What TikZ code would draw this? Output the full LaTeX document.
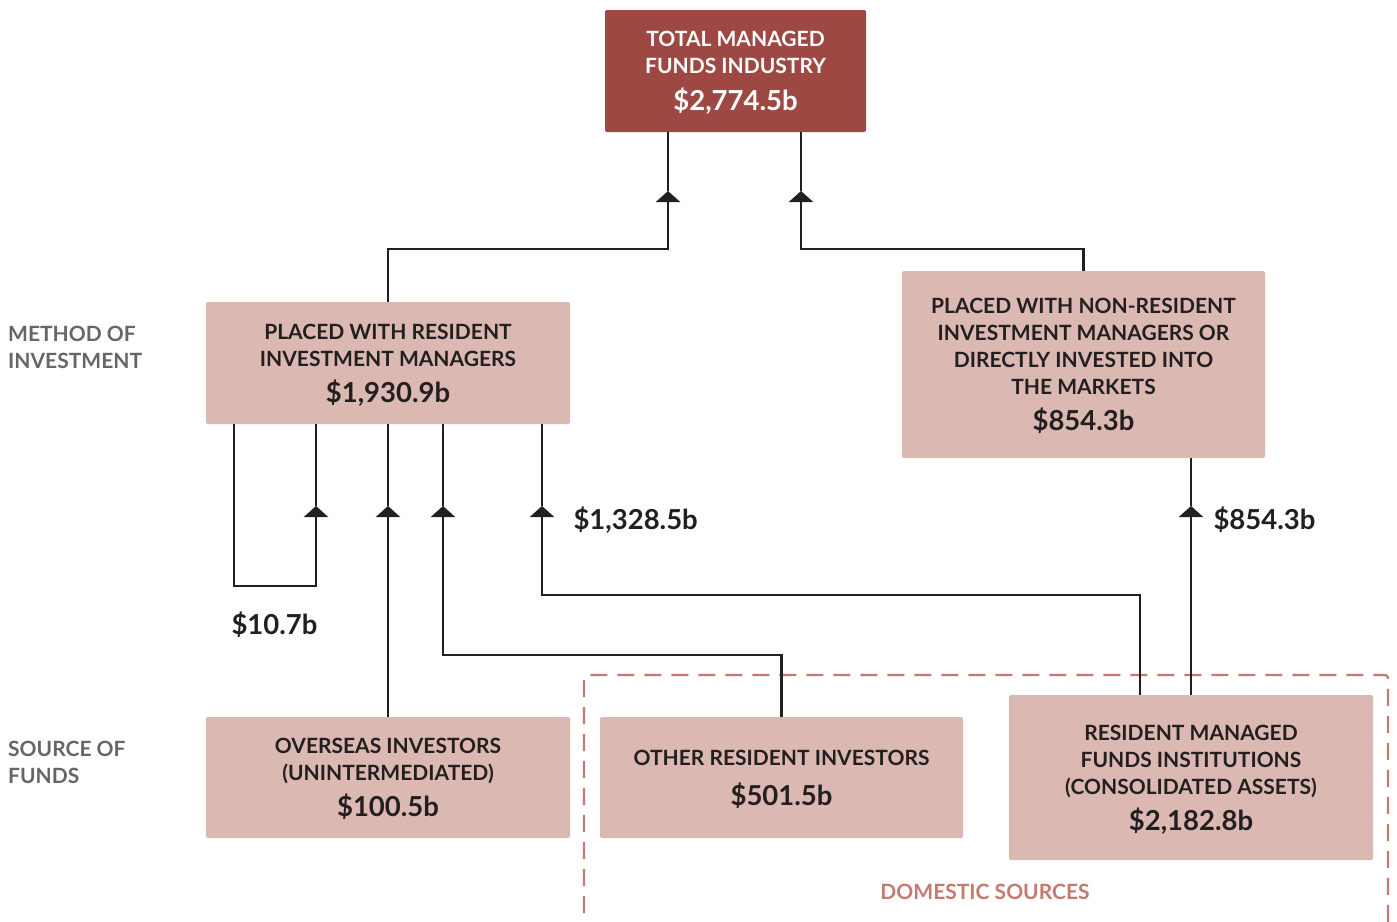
\documentclass[tikz,border=0pt]{standalone}
\usepackage{fontspec}
\setmainfont{Lato}
\usepackage{tikz}
\usetikzlibrary{arrows.meta,calc}
\definecolor{totred}{HTML}{9E4844}
\definecolor{boxpink}{HTML}{DBB8B1}
\definecolor{inkdark}{HTML}{231F20}
\definecolor{sidegray}{HTML}{666666}
\definecolor{domline}{HTML}{C47A72}
\newcommand{\lblfont}{\fontsize{21}{27}\selectfont\bfseries}
\newcommand{\valfont}{\fontsize{27.5}{30}\selectfont\bfseries}
\tikzset{
  fundbox/.style={fill=boxpink,rounded corners=2pt,align=center,text=inkdark,font=\lblfont,inner sep=0pt},
  flow/.style={line width=2.5pt,draw=inkdark,-{Triangle[length=11pt,width=24pt]}},
  link/.style={line width=2.5pt,draw=inkdark},
  amount/.style={font=\valfont,text=inkdark,anchor=west},
  side/.style={font=\lblfont,text=sidegray,align=left,anchor=north west,inner sep=0pt}
}
\begin{document}
\begin{tikzpicture}[x=1pt,y=-1pt]
\useasboundingbox (0,0) rectangle (1397,921);
%\draw[help lines,step=50](0,0)grid(1397,921);
\draw[domline,line width=2.2pt,dash pattern=on 17pt off 10pt,rounded corners=3pt] (584,940)--(584,675)--(1388,675)--(1388,940);
\node[text=domline,font=\lblfont] (dom) at (985,892) {DOMESTIC SOURCES};

\node[fundbox,fill=totred,text=white,minimum width=261pt,minimum height=122pt] (tot) at (735.5,71) {\strut TOTAL MANAGED\\FUNDS INDUSTRY\\[9pt]{\valfont \$2,774.5b}};
\node[fundbox,minimum width=364pt,minimum height=122pt] (rim) at (388,363) {\strut PLACED WITH RESIDENT\\INVESTMENT MANAGERS\\[9pt]{\valfont \$1,930.9b}};
\node[fundbox,minimum width=363pt,minimum height=187pt] (nrim) at (1083.5,364.5) {\strut PLACED WITH NON-RESIDENT\\INVESTMENT MANAGERS OR\\DIRECTLY INVESTED INTO\\THE MARKETS\\[9pt]{\valfont \$854.3b}};
\node[fundbox,minimum width=364pt,minimum height=121pt] (ovs) at (388,777.5) {\strut OVERSEAS INVESTORS\\(UNINTERMEDIATED)\\[9pt]{\valfont \$100.5b}};
\node[fundbox,minimum width=363pt,minimum height=121pt] (oth) at (781.5,777.5) {\strut OTHER RESIDENT INVESTORS\\[9pt]{\valfont \$501.5b}};
\node[fundbox,minimum width=364pt,minimum height=165pt] (rmfi) at (1191,777.5) {\strut RESIDENT MANAGED\\FUNDS INSTITUTIONS\\(CONSOLIDATED ASSETS)\\[9pt]{\valfont \$2,182.8b}};

\node[side] (meth) at (8,326) {METHOD OF\\INVESTMENT};
\node[side] (src) at (8,741) {SOURCE OF\\FUNDS};

% arrow tips
\coordinate (a1) at (668,191);
\coordinate (a7) at (801,191);
\coordinate (a2) at (316,506);
\coordinate (a3) at (388,506);
\coordinate (a4) at (443,506);
\coordinate (a5) at (542,506);
\coordinate (a6) at (1191,506);

\draw[flow] (rim.north) -- ++(0,-53) -| (a1);
\draw[link] (a1) -- (a1 |- tot.south);
\draw[flow] (nrim.north) -- ++(0,-22) -| (a7);
\draw[link] (a7) -- (a7 |- tot.south);

\draw[flow] ($(rim.south west)+(28,0)$) -- ++(0,162) -| (a2);
\draw[link] (a2) -- (a2 |- rim.south);
\draw[flow] (ovs.north) -- (a3);
\draw[link] (a3) -- (a3 |- rim.south);
\draw[flow] (oth.north) -- ++(0,-62) -| (a4);
\draw[link] (a4) -- (a4 |- rim.south);
\draw[flow] ($(rmfi.north)+(-51,0)$) -- ++(0,-100) -| (a5);
\draw[link] (a5) -- (a5 |- rim.south);
\draw[flow] (rmfi.north) -- (a6);
\draw[link] (a6) -- (a6 |- nrim.south);

\node[amount] (v1) at (570,520) {\$1,328.5b};
\node[amount] (v2) at (1210,520) {\$854.3b};
\node[amount] (v3) at (228,625) {\$10.7b};
\end{tikzpicture}
\end{document}
